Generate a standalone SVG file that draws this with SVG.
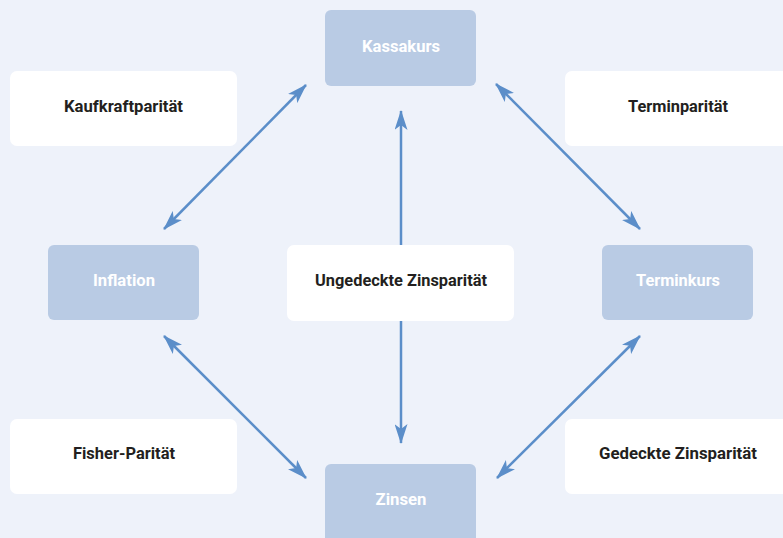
<svg xmlns="http://www.w3.org/2000/svg" width="783" height="538" viewBox="0 0 783 538">
<defs>
<marker id="ah" viewBox="0 0 20 13" refX="19" refY="6.5" markerWidth="20" markerHeight="13" markerUnits="userSpaceOnUse" orient="auto-start-reverse">
<path d="M0,0 L20,6.5 L0,13 L5,6.5 Z" fill="#5b8ec9"/>
</marker>
<style>
.blue{fill:#b9cbe4}
.white{fill:#ffffff}
.t{font-family:"Liberation Sans Narrow","Roboto","Liberation Sans",sans-serif;font-weight:bold;font-size:17px;text-anchor:middle}
.tw{fill:#ffffff}
.tb{fill:#231f20}
.c{stroke:#5b8ec9;stroke-width:2.5;fill:none}
</style>
</defs>
<rect width="783" height="538" fill="#eef2fa"/>
<g id="kaufkraftparitaet"><rect class="white" x="10" y="71" width="227" height="75" rx="7"/><text class="t tb" x="123.5" y="112" textLength="119" lengthAdjust="spacingAndGlyphs">Kaufkraftparität</text></g>
<g id="terminparitaet"><rect class="white" x="565" y="71" width="230" height="75" rx="7"/><text class="t tb" x="678" y="112" textLength="100" lengthAdjust="spacingAndGlyphs">Terminparität</text></g>
<g id="fisherparitaet"><rect class="white" x="10" y="419" width="227" height="75" rx="7"/><text class="t tb" x="124" y="459" textLength="102" lengthAdjust="spacingAndGlyphs">Fisher-Parität</text></g>
<g id="gedeckte"><rect class="white" x="565" y="419" width="230" height="75" rx="7"/><text class="t tb" x="678" y="459" textLength="158" lengthAdjust="spacingAndGlyphs">Gedeckte Zinsparität</text></g>
<g id="kassakurs"><rect class="blue" x="325" y="10" width="151" height="76" rx="6"/><text class="t tw" x="401" y="52" textLength="78" lengthAdjust="spacingAndGlyphs">Kassakurs</text></g>
<g id="inflation"><rect class="blue" x="48" y="245" width="151" height="75" rx="6"/><text class="t tw" x="124" y="286" textLength="62" lengthAdjust="spacingAndGlyphs">Inflation</text></g>
<g id="ungedeckte"><rect class="white" x="287" y="245" width="227" height="76" rx="7"/><text class="t tb" x="401" y="286" textLength="172" lengthAdjust="spacingAndGlyphs">Ungedeckte Zinsparität</text></g>
<g id="terminkurs"><rect class="blue" x="602" y="245" width="151" height="75" rx="6"/><text class="t tw" x="678" y="286" textLength="84" lengthAdjust="spacingAndGlyphs">Terminkurs</text></g>
<g id="zinsen"><rect class="blue" x="325" y="464" width="151" height="80" rx="6"/><text class="t tw" x="401" y="505" textLength="51" lengthAdjust="spacingAndGlyphs">Zinsen</text></g>
<g id="connectors">
<line class="c" x1="306" y1="85" x2="164" y2="229" marker-start="url(#ah)" marker-end="url(#ah)"/>
<line class="c" x1="496" y1="84" x2="640" y2="229" marker-start="url(#ah)" marker-end="url(#ah)"/>
<line class="c" x1="164" y1="336" x2="306" y2="478" marker-start="url(#ah)" marker-end="url(#ah)"/>
<line class="c" x1="640" y1="336" x2="497" y2="478" marker-start="url(#ah)" marker-end="url(#ah)"/>
<line class="c" x1="401" y1="245" x2="401" y2="111" marker-end="url(#ah)"/>
<line class="c" x1="401" y1="321" x2="401" y2="443" marker-end="url(#ah)"/>
</g>
</svg>
